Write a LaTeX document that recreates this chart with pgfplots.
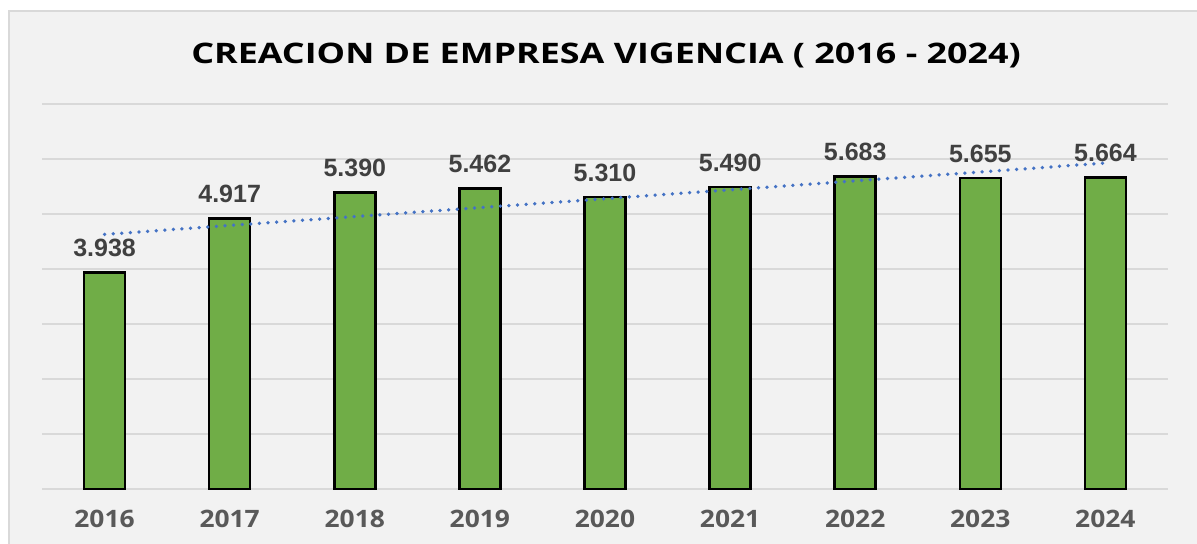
\documentclass[border=0pt]{standalone}
\usepackage{fontspec}
\setmainfont{Open Sans}
\newfontfamily\titlefont[FakeStretch=1.27]{Open Sans}
\newfontfamily\yearfont[FakeStretch=1.1]{Open Sans}
\newfontfamily\arialfont{Liberation Sans}
\usepackage{pgfplots}
\pgfplotsset{compat=1.18}
\definecolor{barGreen}{HTML}{70AD47}
\definecolor{gridGray}{HTML}{D9D9D9}
\definecolor{bgGray}{HTML}{F2F2F2}
\definecolor{lblGray}{HTML}{404040}
\definecolor{yearGray}{HTML}{595959}
\definecolor{trendBlue}{HTML}{4472C4}

\begin{document}
\begin{tikzpicture}
% page and chart background, in pixel units of the reference (0.4pt each, y downwards)
\begin{scope}[x=0.4pt,y=-0.4pt]
\useasboundingbox (0,0) rectangle (1197,543);
\fill[white] (0,0) rectangle (1197,543);
\filldraw[fill=bgGray,draw=gridGray,line width=0.8pt] (9,11) rectangle (1210,560);
\end{scope}

\begin{axis}[
    at={(16.8pt,-195.6pt)}, anchor=south west,
    scale only axis,
    width=450.4pt, height=154pt,
    xmin=2015.5, xmax=2024.5,
    ymin=0, ymax=7000,
    xtick={2016,...,2024},
    xticklabel style={/pgf/number format/1000 sep={}, font=\yearfont\bfseries\fontsize{9.6}{9.6}\selectfont, text=yearGray, yshift=-5pt},
    ytick={0,1000,...,7000},
    yticklabels={},
    major tick length=0pt,
    axis line style={draw=none},
    ymajorgrids,
    grid style={gridGray,line width=0.8pt},
    tick label style={/pgf/number format/assume math mode=true},
    clip=false,
]

% bars with their printed labels
\addplot[
    ybar, bar width=16.4pt,
    fill=barGreen, draw=black, line width=1pt,
    point meta=explicit symbolic,
    nodes near coords,
    every node near coord/.append style={font=\arialfont\bfseries\fontsize{10}{10}\selectfont, text=lblGray, yshift=2.4pt}
] coordinates {
    (2016,3938) [3.938]
    (2017,4917) [4.917]
    (2018,5390) [5.390]
    (2019,5462) [5.462]
    (2020,5310) [5.310]
    (2021,5490) [5.490]
    (2022,5683) [5.683]
    (2023,5655) [5.655]
    (2024,5664) [5.664]
};

% linear trend line
\addplot[trendBlue, line width=1.5pt, line cap=round, dash pattern=on 0pt off 3.45pt] coordinates {
    (2016,4630)
    (2024,5927)
};
\end{axis}

\node[font=\titlefont\bfseries\fontsize{11.3}{11.3}\selectfont] at (242.4pt,-22pt) {CREACION DE EMPRESA VIGENCIA ( 2016 - 2024)};
\end{tikzpicture}
\end{document}
